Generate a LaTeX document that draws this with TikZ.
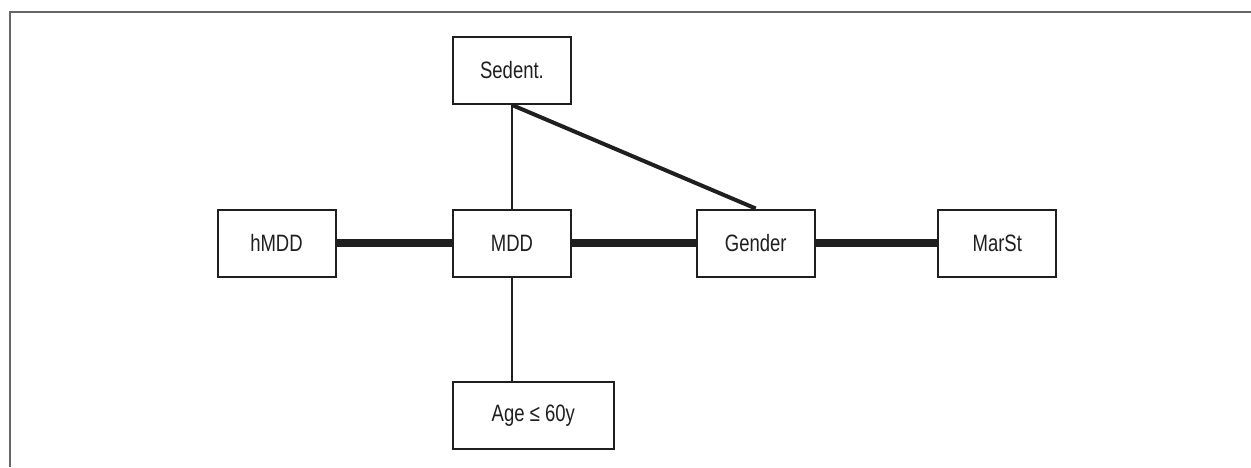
\documentclass[tikz,border=0pt]{standalone}
\usepackage{fontspec}
\setmainfont{Liberation Sans}[FakeStretch=0.78]
\begin{document}
\begin{tikzpicture}[x=1pt,y=-1pt,
  box/.style={draw=black!88, line width=2pt, minimum width=118pt, minimum height=67pt, inner sep=0pt, font=\fontsize{23.7}{26}\selectfont, text=black!88},
  thin/.style={draw=black!88, line width=2pt},
  mid/.style={draw=black!88, line width=4pt},
  thick/.style={draw=black!88, line width=7.5pt}]
\useasboundingbox (0,0) rectangle (1251,467);
\draw[line width=2pt, draw=black!60] (9.5,467) -- (9.5,12) -- (1251,12);
\node[box] (sed) at (512,70.5) {Sedent.};
\node[box] (mdd) at (512,243) {MDD};
\node[box] (hmdd) at (276.5,243) {hMDD};
\node[box] (gen) at (755.7,243) {Gender};
\node[box] (mar) at (997.3,243) {MarSt};
\node[box, minimum width=161pt] (age) at (533.3,415.7) {Age ≤ 60y};
\draw[thin] (sed.south) -- (mdd.north);
\draw[mid] (sed.south) -- (gen.north);
\draw[thick] (hmdd) -- (mdd);
\draw[thick] (mdd) -- (gen);
\draw[thick] (gen) -- (mar);
\draw[thin] (mdd.south) -- (mdd.south |- age.north);
\end{tikzpicture}
\end{document}
